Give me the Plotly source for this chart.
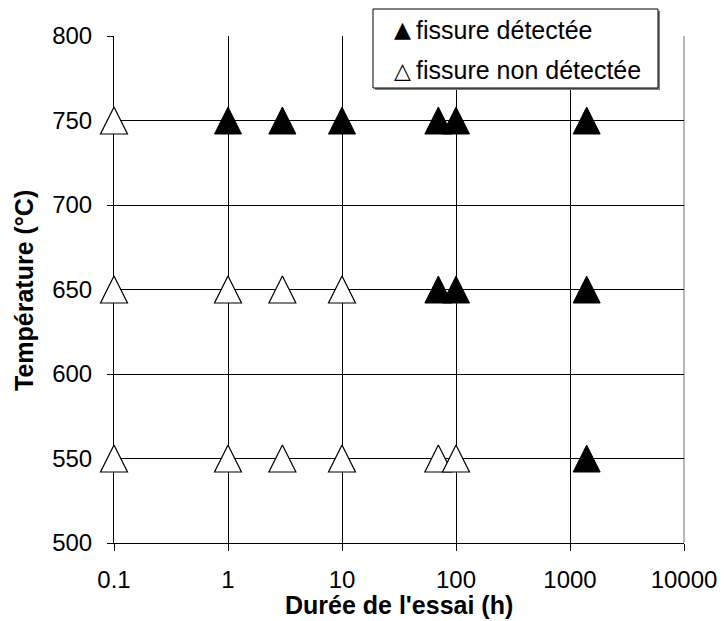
import plotly.graph_objects as go

# Data: test duration (h) and temperature (°C)
detected_duration = [1, 3, 10, 70, 100, 1400, 70, 100, 1400, 1400]
detected_temp = [750, 750, 750, 750, 750, 750, 650, 650, 650, 550]

undetected_duration = [0.1, 0.1, 0.1, 1, 3, 10, 1, 3, 10, 70, 100]
undetected_temp = [750, 650, 550, 650, 650, 650, 550, 550, 550, 550, 550]

x_tickvals = [0.1, 1, 10, 100, 1000, 10000]
x_ticktext = ["0.1", "1", "10", "100", "1000", "10000"]
y_tickvals = [500, 550, 600, 650, 700, 750, 800]

x_title = "<b>Durée de l'essai (h)</b>"
y_title = "<b>Température (°C)</b>"
legend_symbols = ["\u25b2", "\u25b3"]
legend_labels = ["fissure détectée", "fissure non détectée"]

FONT = "Liberation Sans, Arial, sans-serif"
MS = 27

fig = go.Figure()
fig.add_trace(go.Scatter(
    x=undetected_duration, y=undetected_temp, mode="markers",
    marker=dict(symbol="arrow-down", angle=180, standoff=MS / 2, size=MS,
                color="white", line=dict(color="black", width=1.2)),
    cliponaxis=False, showlegend=False, name="fissure non détectée"))
fig.add_trace(go.Scatter(
    x=detected_duration, y=detected_temp, mode="markers",
    marker=dict(symbol="arrow-down", angle=180, standoff=MS / 2, size=MS,
                color="black", line=dict(color="black", width=1)),
    cliponaxis=False, showlegend=False, name="fissure détectée"))

W, H = 724, 621
L, T, R, B = 114, 36, 724 - 684, 621 - 543
pw, ph = W - L - R, H - T - B

def px(xp):
    return (xp - L) / pw

def py(yp):
    return (H - B - yp) / ph

shapes = [
    dict(type="line", xref="paper", yref="paper", x0=1, x1=1, y0=0, y1=1,
         line=dict(color="#a0a0a0", width=1.5), layer="below"),
    dict(type="rect", xref="paper", yref="paper",
         x0=px(375), x1=px(660), y0=py(90), y1=py(11),
         line=dict(width=0), fillcolor="#808080", layer="above"),
    dict(type="rect", xref="paper", yref="paper",
         x0=px(373), x1=px(658), y0=py(88), y1=py(9),
         line=dict(color="black", width=1), fillcolor="white", layer="above"),
]

annotations = []
for i, (sym, lab) in enumerate(zip(legend_symbols, legend_labels)):
    yc = py(30 + 40 * i)
    annotations.append(dict(xref="paper", yref="paper", x=px(402), y=yc,
                            xanchor="center", yanchor="middle", text=sym,
                            showarrow=False,
                            font=dict(family="DejaVu Sans", size=22,
                                      color="black")))
    annotations.append(dict(xref="paper", yref="paper", x=px(414), y=yc,
                            xanchor="left", yanchor="middle", text=lab,
                            showarrow=False,
                            font=dict(family=FONT, size=25, color="black")))

# axis titles
annotations.append(dict(xref="paper", yref="paper", x=px(399), y=py(605),
                        xanchor="center", yanchor="middle", text=x_title,
                        showarrow=False,
                        font=dict(family=FONT, size=25, color="black")))
annotations.append(dict(xref="paper", yref="paper", x=px(24), y=py(291),
                        xanchor="center", yanchor="middle", text=y_title,
                        textangle=-90, showarrow=False,
                        font=dict(family=FONT, size=25, color="black")))

fig.update_layout(
    width=W, height=H,
    margin=dict(l=L, r=R, t=T, b=B, pad=0),
    paper_bgcolor="white", plot_bgcolor="white",
    font=dict(family=FONT, size=24, color="black"),
    shapes=shapes, annotations=annotations,
    xaxis=dict(
        type="log", range=[-1, 4], tickvals=x_tickvals, ticktext=x_ticktext,
        showgrid=True, gridcolor="black", gridwidth=1,
        showline=True, linecolor="black", linewidth=1,
        ticks="outside", ticklen=7, tickcolor="black", tickwidth=1,
        ticklabelstandoff=8, ticklabeloverflow="allow",
        zeroline=False, automargin=False, layer="below traces",
    ),
    yaxis=dict(
        range=[500, 800], tickvals=y_tickvals,
        showgrid=True, gridcolor="black", gridwidth=1,
        showline=True, linecolor="black", linewidth=1,
        ticks="outside", ticklen=6, tickcolor="black", tickwidth=1,
        ticklabelstandoff=10, ticklabeloverflow="allow",
        zeroline=False, automargin=False, layer="below traces",
    ),
)

# remove the default 8px page margin so the page is exactly the figure size
fig.write_html("out.html",
               config={"displayModeBar": False},
               post_script="document.body.style.margin='0';")
